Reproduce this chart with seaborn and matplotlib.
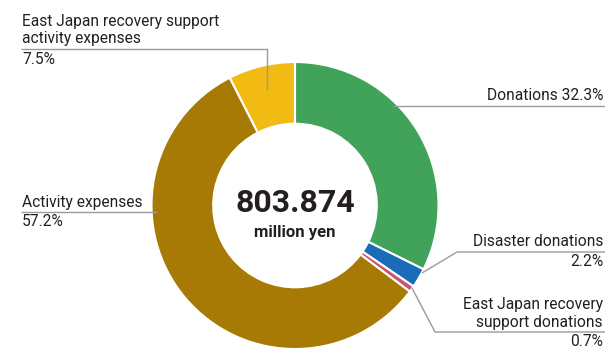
import matplotlib
matplotlib.use("Agg")
import matplotlib.pyplot as plt
import seaborn as sns

sns.set_theme(style="white")
plt.rcParams['font.family'] = ['Roboto', 'DejaVu Sans']

categories = ["Donations", "Disaster donations", "East Japan recovery support donations",
              "Activity expenses", "East Japan recovery support activity expenses"]
values = [32.3, 2.2, 0.7, 57.2, 7.5]
colors = ["#41a35a", "#1a6bb8", "#c9546e", "#a67a05", "#f2bb13"]
total_value = "803.874"
total_unit = "million yen"

W, H = 605, 350
fig = plt.figure(figsize=(W / 100, H / 100), dpi=100)
ax = fig.add_axes([0, 0, 1, 1])

cx, cy_px, R = 295, 205.5, 143.5
def Y(y):
    return H - y

ax.pie(values, colors=colors, startangle=90, counterclock=False,
       center=(cx, Y(cy_px)), radius=R, frame=True,
       wedgeprops=dict(width=R * 0.43, edgecolor="white", linewidth=1.5))
ax.set_xlim(0, W)
ax.set_ylim(0, H)
ax.set_aspect("equal")
ax.axis("off")

lc = "#9a9a9a"
lw = 1.0
def line(pts):
    xs = [p[0] for p in pts]
    ys = [Y(p[1]) for p in pts]
    ax.plot(xs, ys, color=lc, lw=lw, solid_capstyle="butt")

tc = "#231f20"
fs = 11.2
ls = 1.18
# yellow label
line([(267, 90), (267, 49), (21, 49)])
ax.text(22, Y(46.5), "East Japan recovery support\nactivity expenses", ha="left", va="bottom",
        fontsize=fs, color=tc, linespacing=ls)
ax.text(22, Y(51.5), "7.5%", ha="left", va="top", fontsize=fs, color=tc)
# donations
line([(393, 106), (605, 106)])
ax.text(603, Y(103.5), "Donations 32.3%", ha="right", va="bottom", fontsize=fs, color=tc)
# activity
line([(21, 212), (157, 212)])
ax.text(22, Y(209.5), "Activity expenses", ha="left", va="bottom", fontsize=fs, color=tc)
ax.text(22, Y(214.5), "57.2%", ha="left", va="top", fontsize=fs, color=tc)
# disaster
line([(422, 273), (457, 252), (605, 252)])
ax.text(603, Y(249.5), "Disaster donations", ha="right", va="bottom", fontsize=fs, color=tc)
ax.text(603, Y(254.5), "2.2%", ha="right", va="top", fontsize=fs, color=tc)
# east japan donations
line([(412, 288), (435, 332), (605, 332)])
ax.text(603, Y(329.5), "East Japan recovery\nsupport donations", ha="right", va="bottom",
        fontsize=fs, color=tc, linespacing=ls)
ax.text(603, Y(334.5), "0.7%", ha="right", va="top", fontsize=fs, color=tc)

# center
ax.text(cx, Y(203.5), total_value, ha="center", va="center", fontsize=23,
        fontweight="bold", color=tc)
ax.text(cx, Y(233), total_unit, ha="center", va="center", fontsize=12,
        fontweight="bold", color=tc)

fig.savefig("out.png", dpi=100)
